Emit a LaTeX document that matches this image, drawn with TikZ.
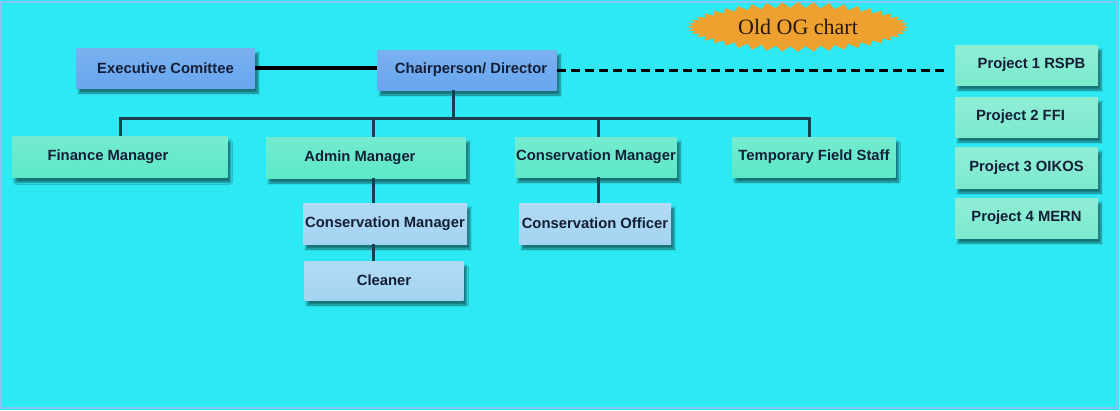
\documentclass[tikz,border=0pt]{standalone}
\usepackage{fontspec}
\setmainfont{Liberation Serif}
\setsansfont{Liberation Sans}
\usetikzlibrary{shapes.symbols,shadows.blur}
\definecolor{bgcyan}{HTML}{2DE9F4}
\definecolor{rimblue}{HTML}{86C6F2}
\definecolor{boxblue}{HTML}{68A6EE}
\definecolor{boxgreen}{HTML}{5CE8C8}
\definecolor{projgreen}{HTML}{7CEACE}
\definecolor{boxpale}{HTML}{A4D4F2}
\definecolor{burstorange}{HTML}{EFA12F}
\definecolor{linkslate}{HTML}{1A4050}
\definecolor{textnavy}{HTML}{141E36}
\tikzset{
	post/.style={rectangle, minimum height=40pt, inner sep=0pt, text=textnavy,
		font=\sffamily\bfseries\fontsize{14.8}{16}\selectfont,
		blur shadow={shadow xshift=3pt, shadow yshift=-5pt, shadow blur steps=7, shadow opacity=50}},
	toppost/.style={post, top color=boxblue!88!white, bottom color=boxblue},
	mainpost/.style={post, top color=boxgreen!85!white, bottom color=boxgreen},
	subpost/.style={post, top color=boxpale!85!white, bottom color=boxpale},
	projpost/.style={post, top color=projgreen!85!white, bottom color=projgreen},
	link/.style={draw=linkslate, line width=3pt},
	solidlink/.style={draw=black, line width=3.5pt},
	dashlink/.style={draw=black, line width=3pt, dash pattern=on 9pt off 5pt},
}

\begin{document}
\begin{tikzpicture}[x=1pt,y=-1pt]
	\useasboundingbox (0,0) rectangle (1119,410);
	\fill[bgcyan] (0,0) rectangle (1119,410);
	\draw[rimblue, line width=2pt] (1,1.5) rectangle (1117,408);
	
	\node[starburst, starburst points=44, starburst point height=6pt, random starburst=0,
		fill=burstorange, minimum width=222pt, minimum height=50pt, inner sep=0pt,
		text=black!80!brown, font=\fontsize{22}{24}\selectfont] (title) at (798,27) {Old OG chart};
	
	\node[toppost, minimum width=179pt] (exec) at (165.5,68) {Executive Comittee};
	\node[toppost, minimum width=180pt] (chair) at (467,70) {\hspace*{8pt}Chairperson/ Director};
	
	\node[projpost, minimum width=143pt] (proj1) at (1026.5,65) {\hspace*{10pt}Project 1 RSPB};
	\node[projpost, minimum width=143pt] (proj2) at (1026.5,117) {Project 2 FFI\hspace*{12pt}};
	\node[projpost, minimum width=143pt, minimum height=41pt] (proj3) at (1026.5,167.5) {Project 3 OIKOS};
	\node[projpost, minimum width=143pt] (proj4) at (1026.5,218) {Project 4 MERN};
	
	\node[mainpost, minimum width=215pt, minimum height=41pt] (finance) at (120,157) {Finance Manager\hspace*{24pt}};
	\node[mainpost, minimum width=200pt, minimum height=41pt] (admin) at (366,157.5) {Admin Manager\hspace*{12pt}};
	\node[mainpost, minimum width=162pt] (consmgr) at (596,157) {Conservation Manager};
	\node[mainpost, minimum width=163pt] (fieldstaff) at (814,157) {Temporary Field Staff};
	
	\node[subpost, minimum width=164pt, minimum height=41pt] (consmgrb) at (385,223.5) {Conservation Manager};
	\node[subpost, minimum width=159pt, minimum height=39pt] (cleaner) at (384,280.5) {Cleaner};
	\node[subpost, minimum width=152pt, minimum height=41pt] (officer) at (595,223.5) {Conservation Officer};
	
	\coordinate (bus) at (0,118);
	\draw[solidlink] (exec.east) -- (exec.east -| chair.west);
	\draw[dashlink, shorten >=7pt] (chair.east) -- (chair.east -| proj1.west);
	
	\draw[link] ([xshift=-14pt]chair.south) -- ([xshift=-14pt]chair.south |- bus);
	\draw[link] (finance.north) -- (finance.north |- bus) -- ([xshift=-5pt]fieldstaff.north |- bus) -- ([xshift=-5pt]fieldstaff.north);
	\draw[link] ([xshift=7pt]admin.north) -- ([xshift=7pt]admin.north |- bus);
	\draw[link] ([xshift=2pt]consmgr.north) -- ([xshift=2pt]consmgr.north |- bus);
	
	\draw[link] ([xshift=7pt]admin.south) -- ([xshift=7pt]admin.south |- consmgrb.north);
	\draw[link] ([xshift=7pt]admin.south |- consmgrb.south) -- ([xshift=7pt]admin.south |- cleaner.north);
	\draw[link] ([xshift=2pt]consmgr.south) -- ([xshift=2pt]consmgr.south |- officer.north);
\end{tikzpicture}
\end{document}
